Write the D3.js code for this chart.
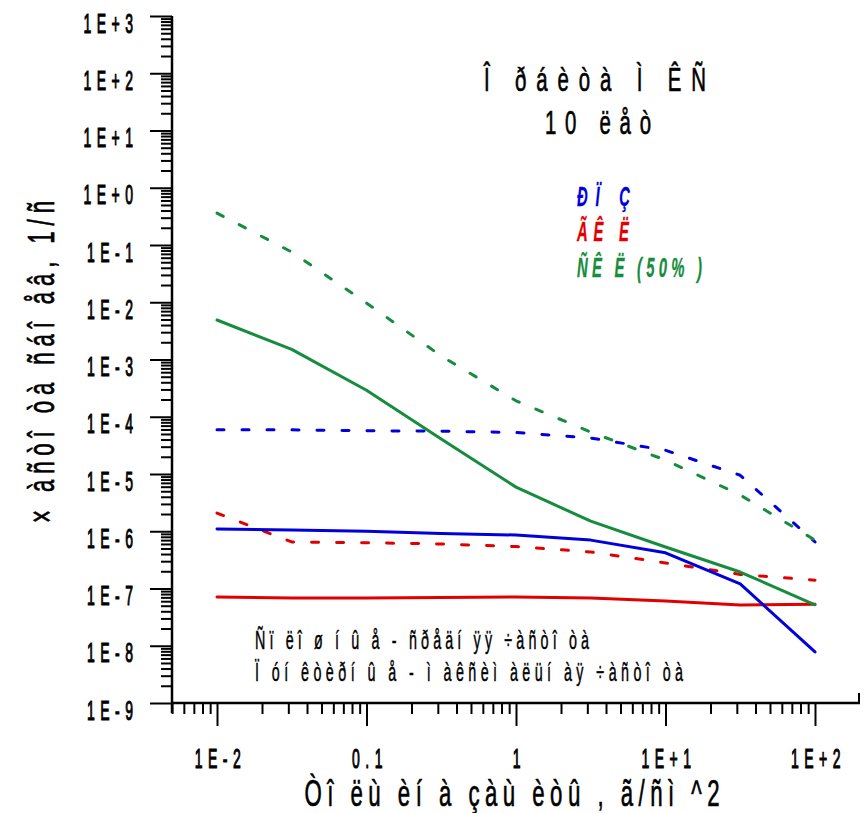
<!DOCTYPE html>
<html><head><meta charset="utf-8">
<script src="https://cdn.jsdelivr.net/npm/d3@7"></script>
<style>body{margin:0;background:#fff}svg{display:block}</style>
</head><body>
<svg id="c" width="864" height="813"></svg>
<script>
// ---- data ----
const xValues = [0.01, 0.0316, 0.1, 0.316, 1, 3.16, 10, 31.6, 100];
const rpzMean = [1.09e-6, 1.05e-6, 1.0e-6, 9.1e-7, 8.6e-7, 7.0e-7, 4.2e-7, 1.2e-7, 7.8e-9];
const rpzMax  = [5.9e-5, 5.9e-5, 5.7e-5, 5.6e-5, 5.3e-5, 4.25e-5, 2.6e-5, 9.5e-6, 6.5e-7];
const gklMean = [7.1e-8, 6.85e-8, 6.85e-8, 6.95e-8, 7.1e-8, 6.85e-8, 6.05e-8, 5.15e-8, 5.3e-8];
const gklMax  = [2.08e-6, 6.5e-7, 6.3e-7, 6.0e-7, 5.4e-7, 4.35e-7, 2.8e-7, 1.76e-7, 1.4e-7];
const sklMean = [4.9e-3, 1.5e-3, 2.9e-4, 4.1e-5, 5.9e-6, 1.5e-6, 5.3e-7, 1.94e-7, 5.2e-8];
const sklMax  = [0.36, 0.0755, 9.7e-3, 1.15e-3, 1.9e-4, 5.4e-5, 1.75e-5, 4.3e-6, 7.0e-7];

const yTickValues = [1e-9,1e-8,1e-7,1e-6,1e-5,1e-4,1e-3,1e-2,1e-1,1e0,1e1,1e2,1e3];
const yTickLabels = ["1E-9","1E-8","1E-7","1E-6","1E-5","1E-4","1E-3","1E-2","1E-1","1E+0","1E+1","1E+2","1E+3"];
const xTickValues = [0.01, 0.1, 1, 10, 100];
const xTickLabels = ["1E-2","0.1","1","1E+1","1E+2"];

const seriesNames = ["ÐÏ Ç", "ÃÊ Ë", "ÑÊ Ë (50% )"];
const seriesColors = ["#0000dd", "#e00000", "#168c3e"];
const titleLines = ["Î ðáèòà Ì ÊÑ", "10 ëåò"];
const noteLines = ["Ñï ëî ø í û å - ñðåäí ÿÿ ÷àñòî òà", "Ï óí êòèðí û å - ì àêñèì àëüí àÿ ÷àñòî òà"];
const xTitle = "Òî ëù èí à çàù èòû , ã/ñì ^2";
const yTitle = "× àñòî òà ñáî åâ, 1/ñ";

// ---- layout ----
const FONT = "'Liberation Sans', Arial, sans-serif";
const svg = d3.select("#c");
const x = d3.scaleLog().domain([0.005, 200]).range([172, 860]);
const y = d3.scaleLog().domain([1e-9, 1e3]).range([703, 16]);

function addText(parent, px, py, s, o) {
  const sx = o.sx ?? 0.55;
  let tr = `translate(${px},${py})`;
  if (o.rotate) tr += ` rotate(${o.rotate})`;
  tr += ` scale(${sx},1)`;
  const col = o.fill || "#000";
  const t = parent.append("text").attr("transform", tr).text(s)
    .attr("font-family", FONT).attr("font-size", o.size)
    .attr("text-anchor", o.anchor || "start").attr("fill", col)
    .attr("font-weight", o.weight || "normal")
    .attr("stroke", col).attr("stroke-width", o.sw ?? 0.7);
  if (o.width) t.attr("textLength", o.width / sx).attr("lengthAdjust", "spacing");
  if (o.italic) t.attr("font-style", "italic");
  return t;
}

// minor tick values
const yMinor = [];
for (let d = -9; d < 3; d++) for (let k = 2; k <= 9; k++) yMinor.push(k * Math.pow(10, d));
const xMinor = [];
for (let d = -3; d < 3; d++) for (let k = 2; k <= 9; k++) {
  const v = k * Math.pow(10, d);
  if (v >= 0.005 && v < 200) xMinor.push(v);
}

const TSX = 0.5;
function styleTickText(sel) {
  sel.attr("font-family", FONT).attr("font-size", 28).attr("font-weight", "normal")
    .attr("fill", "#000").attr("stroke", "#000").attr("stroke-width", 1.1)
    .attr("letter-spacing", 11).attr("dy", 0)
    .attr("transform", `scale(${TSX},1)`);
}
// y axis
const gyMinor = svg.append("g").attr("transform", "translate(172,0)")
  .call(d3.axisLeft(y).tickValues(yMinor).tickSize(11).tickFormat(""));
const gy = svg.append("g").attr("transform", "translate(172,0)")
  .call(d3.axisLeft(y).tickValues(yTickValues).tickSize(22).tickFormat((d, i) => yTickLabels[i]));
[gyMinor, gy].forEach(g => {
  g.selectAll(".domain").remove();
  g.selectAll("line").attr("stroke", "#000").attr("stroke-width", 2);
});
gy.selectAll(".tick text").call(styleTickText).attr("y", 16).attr("x", -(39 - 5.5) / TSX);

// x axis
const gxMinor = svg.append("g").attr("transform", "translate(0,703)")
  .call(d3.axisBottom(x).tickValues(xMinor).tickSize(11).tickFormat(""));
const gx = svg.append("g").attr("transform", "translate(0,703)")
  .call(d3.axisBottom(x).tickValues(xTickValues).tickSize(23).tickFormat((d, i) => xTickLabels[i]));
[gxMinor, gx].forEach(g => {
  g.selectAll(".domain").remove();
  g.selectAll("line").attr("stroke", "#000").attr("stroke-width", 2);
});
gx.selectAll(".tick text").call(styleTickText).attr("y", 65).attr("x", 3 / TSX);

// axis lines
svg.append("line").attr("x1", x(0.005)).attr("x2", x(0.005)).attr("y1", y(1e3)).attr("y2", y(1e-9) + 10)
  .attr("stroke", "#000").attr("stroke-width", 2.5);
svg.append("line").attr("x1", x(0.005)).attr("x2", x(200)).attr("y1", y(1e-9)).attr("y2", y(1e-9))
  .attr("stroke", "#000").attr("stroke-width", 2.5);
svg.append("line").attr("x1", x(200) - 1).attr("x2", x(200) - 1).attr("y1", y(1e-9)).attr("y2", y(1e-9) - 10)
  .attr("stroke", "#000").attr("stroke-width", 2);

// lines
const line = d3.line().x((d, i) => x(xValues[i])).y(d => y(d));
const series = [
  { v: rpzMax, c: 0, dash: true }, { v: gklMax, c: 1, dash: true }, { v: sklMax, c: 2, dash: true },
  { v: gklMean, c: 1, dash: false }, { v: rpzMean, c: 0, dash: false }, { v: sklMean, c: 2, dash: false }
];
series.forEach(s => {
  svg.append("path").attr("d", line(s.v)).attr("fill", "none")
    .attr("stroke", seriesColors[s.c]).attr("stroke-width", 3)
    .attr("stroke-linejoin", "round").attr("stroke-linecap", "round")
    .attr("stroke-dasharray", s.dash ? "7,18" : null);
});

// title
addText(svg, 595, 91, titleLines[0], { size: 34, anchor: "middle", width: 222, sx: 0.6 });
addText(svg, 598, 134, titleLines[1], { size: 34, anchor: "middle", width: 106, sx: 0.6 });

// legend
const legW = [53, 52, 125];
const legY = [206, 241, 277];
seriesNames.forEach((n, i) => {
  addText(svg, 577, legY[i], n, { size: 27, width: legW[i], sx: 0.55, italic: true, weight: "bold", sw: 0.3, fill: seriesColors[i] });
});

// notes
addText(svg, 255, 649, noteLines[0], { size: 26, width: 334, sx: 0.55, sw: 0.5 });
addText(svg, 255, 681, noteLines[1], { size: 26, width: 428, sx: 0.55, sw: 0.5 });

// axis titles
addText(svg, 512, 806, xTitle, { size: 37, anchor: "middle", width: 415, sx: 0.6 });
addText(svg, 54, 362, yTitle, { size: 37, anchor: "middle", width: 322, sx: 0.6, rotate: -90 });
</script>
</body></html>
